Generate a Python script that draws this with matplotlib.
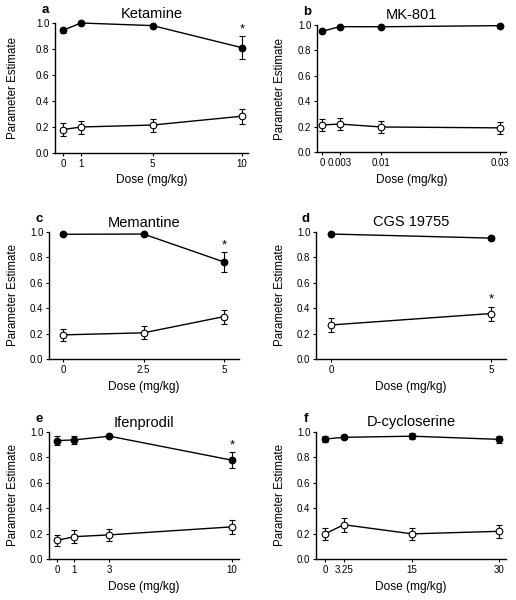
import matplotlib
matplotlib.use("Agg")
import matplotlib.pyplot as plt

plt.rcParams['font.family'] = ['Liberation Sans', 'DejaVu Sans']

# ---------------- data ----------------
titles = ["Ketamine", "MK-801", "Memantine", "CGS 19755", "Ifenprodil", "D-cycloserine"]
letters = ["a", "b", "c", "d", "e", "f"]

doses_a = [0, 1, 5, 10]
filled_a = [0.944, 1.0, 0.98, 0.81]
filled_err_a = [0.02, 0.0, 0.0, 0.09]
open_a = [0.18, 0.20, 0.215, 0.283]
open_err_a = [0.048, 0.05, 0.05, 0.058]

doses_b = [0, 0.003, 0.01, 0.03]
filled_b = [0.95, 0.987, 0.986, 0.995]
filled_err_b = [0.0, 0.0, 0.0, 0.0]
open_b = [0.213, 0.22, 0.197, 0.19]
open_err_b = [0.05, 0.05, 0.05, 0.048]

doses_c = [0, 2.5, 5]
filled_c = [0.982, 0.984, 0.764]
filled_err_c = [0.0, 0.0, 0.078]
open_c = [0.19, 0.206, 0.334]
open_err_c = [0.045, 0.05, 0.055]

doses_d = [0, 5]
filled_d = [0.984, 0.952]
filled_err_d = [0.0, 0.015]
open_d = [0.268, 0.358]
open_err_d = [0.055, 0.055]

doses_e = [0, 1, 3, 10]
filled_e = [0.932, 0.938, 0.967, 0.778]
filled_err_e = [0.035, 0.03, 0.0, 0.062]
open_e = [0.147, 0.176, 0.19, 0.253]
open_err_e = [0.042, 0.05, 0.05, 0.055]

doses_f = [0, 3.25, 15, 30]
filled_f = [0.945, 0.958, 0.967, 0.942]
filled_err_f = [0.02, 0.01, 0.022, 0.03]
open_f = [0.198, 0.27, 0.198, 0.218]
open_err_f = [0.045, 0.055, 0.045, 0.05]

xtick_labels = [["0", "1", "5", "10"],
                ["0", "0.003", "0.01", "0.03"],
                ["0", "2.5", "5"],
                ["0", "5"],
                ["0", "1", "3", "10"],
                ["0", "3.25", "15", "30"]]

# significance markers: (series, dose index)
stars = [[("filled", 3)], [], [("filled", 2)], [("open", 1)], [("filled", 3)], []]

panels = [
    (doses_a, filled_a, filled_err_a, open_a, open_err_a),
    (doses_b, filled_b, filled_err_b, open_b, open_err_b),
    (doses_c, filled_c, filled_err_c, open_c, open_err_c),
    (doses_d, filled_d, filled_err_d, open_d, open_err_d),
    (doses_e, filled_e, filled_err_e, open_e, open_err_e),
    (doses_f, filled_f, filled_err_f, open_f, open_err_f),
]

# ---------------- layout (pixels) ----------------
W, H = 516, 600
# (left spine x, right end x, top y, bottom y)
boxes = [(55, 248, 23, 153), (317, 506, 25, 152),
         (49, 239, 232, 359), (316, 506, 232, 359),
         (49, 239, 432, 559), (316, 506, 432, 559)]
xlims = [(-0.447, 10.335), (-0.00084, 0.031),
         (-0.435, 5.466), (-0.47, 5.47),
         (-0.457, 10.4), (-1.55, 31.2)]
ylabel_x = [13, 280, 13, 280, 13, 280]
xlabel_gap = [27, 28, 28, 28, 28, 28]
title_gap = [9, 10, 9, 10, 9, 10]

fig = plt.figure(figsize=(W / 100, H / 100), dpi=100)

for i, (box, xl) in enumerate(zip(boxes, xlims)):
    l, r, t, b = box
    ax = fig.add_axes([l / W, 1 - b / H, (r - l) / W, (b - t) / H])
    doses, fm, fe, om, oe = panels[i]

    ax.errorbar(doses, fm, yerr=fe, fmt='-o', color='black', mfc='black', mec='black',
                ms=4.6, lw=1.0, elinewidth=0.8, capsize=2.2, capthick=0.8, clip_on=False, zorder=3)
    ax.errorbar(doses, om, yerr=oe, fmt='-o', color='black', mfc='white', mec='black',
                ms=4.8, mew=0.8, lw=1.0, elinewidth=0.8, capsize=2.2, capthick=0.8, clip_on=False, zorder=3)

    for series, k in stars[i]:
        if series == "filled":
            yv = fm[k] + fe[k]
        else:
            yv = om[k] + oe[k]
        ax.annotate("*", (doses[k], yv), xytext=(0, 0.5), textcoords='offset points',
                    ha='center', va='bottom', fontsize=9.5, annotation_clip=False)

    ax.set_xlim(*xl)
    ax.set_ylim(0, 1.0)
    ax.set_xticks(doses)
    ax.set_xticklabels(xtick_labels[i])
    ax.set_yticks([0.0, 0.2, 0.4, 0.6, 0.8, 1.0])
    ax.set_yticklabels(["0.0", "0.2", "0.4", "0.6", "0.8", "1.0"])
    ax.tick_params(direction='out', length=2.5, width=0.8, labelsize=7, pad=1.5)
    for s in ['top', 'right']:
        ax.spines[s].set_visible(False)
    for s in ['left', 'bottom']:
        ax.spines[s].set_linewidth(1.0)

    ax.text(0.5, 1 + title_gap[i] / (b - t), titles[i], transform=ax.transAxes,
            fontsize=10.5, ha='center', va='center')
    ax.set_xlabel("Dose (mg/kg)", fontsize=8.6)
    ax.xaxis.label.set_va('center')
    ax.xaxis.set_label_coords(0.5, -xlabel_gap[i] / (b - t))
    ax.set_ylabel("Parameter Estimate", fontsize=8.3)
    ax.yaxis.label.set_va('center')
    ax.yaxis.set_label_coords((ylabel_x[i] - l) / (r - l), 0.5)
    ax.text(-10 / (r - l), 1 + 7 / (b - t), letters[i], transform=ax.transAxes, fontsize=9.5,
            fontweight='bold', ha='center', va='bottom')

fig.savefig("out.png", dpi=100)
